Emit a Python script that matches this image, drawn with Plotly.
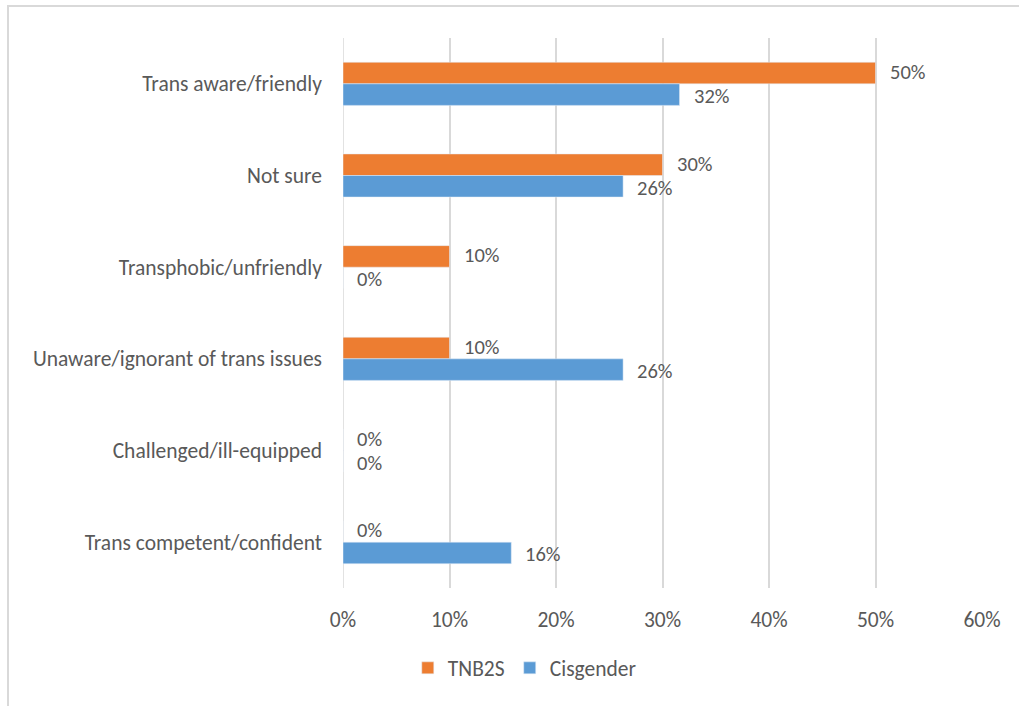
import plotly.graph_objects as go

categories = ["Trans aware/friendly", "Not sure", "Transphobic/unfriendly",
              "Unaware/ignorant of trans issues", "Challenged/ill-equipped",
              "Trans competent/confident"]
tnb2s = [0.50, 0.30, 0.10, 0.10, 0.0, 0.0]
cisgender = [0.316, 0.263, 0.0, 0.263, 0.0, 0.158]
x_ticks = [0, 0.1, 0.2, 0.3, 0.4, 0.5, 0.6]
x_tick_labels = ["0%", "10%", "20%", "30%", "40%", "50%", "60%"]

FONT = "Calibri, Carlito, Lato, sans-serif"
GRAY = "#595959"
FS = 21.5

fig = go.Figure()
fig.add_trace(go.Bar(name="TNB2S", y=categories, x=tnb2s, orientation="h",
                     marker_color="#ED7D31", hoverinfo="x"))
fig.add_trace(go.Bar(name="Cisgender", y=categories, x=cisgender, orientation="h",
                     marker_color="#5B9BD5", hoverinfo="x"))

annotations = []
for vals, ys in ((tnb2s, 12), (cisgender, -12)):
    for c, v in zip(categories, vals):
        annotations.append(dict(x=v, y=c, xref="x", yref="y", text=f"{v:.0%}",
                                showarrow=False, xanchor="left", yanchor="middle",
                                xshift=13, yshift=ys, borderpad=0,
                                font=dict(family=FONT, size=20.5, color=GRAY)))

fig.update_layout(
    width=1019, height=706,
    margin=dict(l=343, r=37, t=38, b=118),
    paper_bgcolor="white", plot_bgcolor="white",
    barmode="group", bargap=0.53, bargroupgap=0,
    font=dict(family=FONT, size=FS, color=GRAY),
    xaxis=dict(range=[0, 0.6], tickvals=x_ticks, ticktext=x_tick_labels,
               showgrid=True, gridcolor="#D9D9D9", gridwidth=1.5,
               zeroline=False, showline=False, ticks="",
               ticklabelstandoff=16, fixedrange=True),
    yaxis=dict(categoryorder="array", categoryarray=categories,
               autorange="reversed", showgrid=False, zeroline=False,
               showline=False, ticks="", ticklabelstandoff=20, fixedrange=True),
    legend=dict(orientation="h", xref="container", yref="container",
                x=0.515, y=0.054, xanchor="center", yanchor="middle",
                traceorder="normal", font=dict(family=FONT, size=FS, color=GRAY)),
    annotations=annotations,
    shapes=[dict(type="rect", xref="paper", yref="paper",
                 x0=(8 - 343) / 639, x1=2, y0=-1, y1=1 + (38 - 6) / 550,
                 line=dict(color="#D9D9D9", width=2), fillcolor="rgba(0,0,0,0)",
                 layer="below")],
)
# vertical zero gridline
fig.add_vline(x=0, line_color="#D9D9D9", line_width=1.5, layer="below")

fig.write_html("out.html")
